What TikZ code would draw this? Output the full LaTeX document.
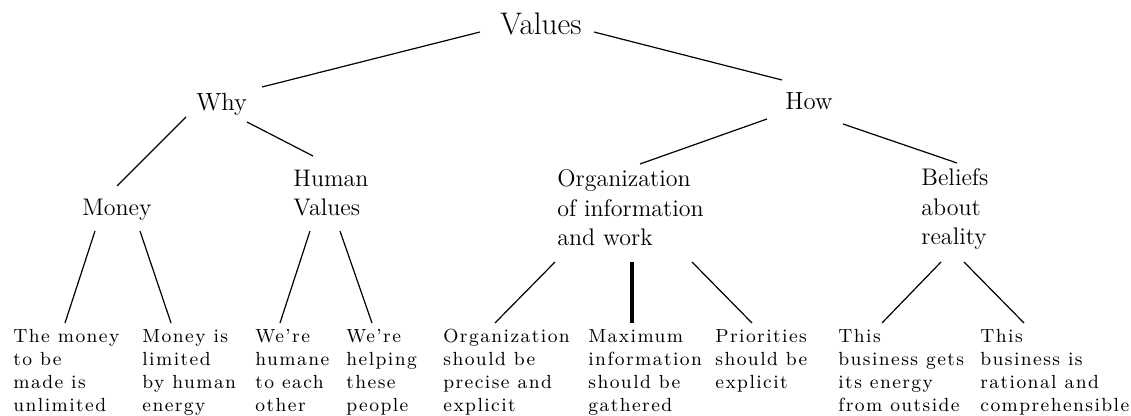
\documentclass[tikz,border=0pt]{standalone}
\usepackage{fontspec}
\setmainfont{Latin Modern Roman}
\usetikzlibrary{calc}
\tikzset{
  conn/.style={line width=0.6pt},
  thickconn/.style={line width=1.6pt},
  rootstyle/.style={anchor=base west, inner sep=0pt, font=\fontsize{15.6}{18}\selectfont},
  levelone/.style={anchor=base west, inner sep=0pt, font=\fontsize{12.4}{15}\selectfont},
  leveltwo/.style={anchor=base west, inner sep=0pt, align=left, font=\fontsize{12}{14.9}\selectfont},
  leafstyle/.style={anchor=base west, inner sep=0pt, align=left, font=\fontsize{9.5}{11.5}\selectfont\addfontfeature{LetterSpace=7.5}}
}
\begin{document}
\begin{tikzpicture}[x=0.5pt,y=-0.5pt]
\useasboundingbox (0,0) rectangle (1131,416);
% base west = baseline of the last line
\node[rootstyle] (values) at (500,35) {Values};
\node[levelone] (why) at (196,111) {Why};
\node[levelone] (how) at (785,110) {How};
\node[leveltwo] (money) at (82,216) {Money};
\node[leveltwo] (hv) at (293,216) {Human\\Values};
\node[leveltwo] (org) at (557,246) {Organization\\of information\\and work};
\node[leveltwo] (beliefs) at (921,245) {Beliefs\\about\\reality};
\node[leafstyle] (l1) at (13,412) {The money\\to be\\made is\\unlimited};
\node[leafstyle] (l2) at (142,412) {Money is\\limited\\by human\\energy};
\node[leafstyle] (l3) at (255,412) {We're\\humane\\to each\\other};
\node[leafstyle] (l4) at (346,412) {We're\\helping\\these\\people};
\node[leafstyle] (l5) at (443,412) {Organization\\should be\\precise and\\explicit};
\node[leafstyle] (l6) at (588,412) {Maximum\\information\\should be\\gathered};
\node[leafstyle] (l7) at (715,389) {Priorities\\should be\\explicit};
\node[leafstyle] (l8) at (838,412) {This\\business gets\\its energy\\from outside};
\node[leafstyle] (l9) at (980,412) {This\\business is\\rational and\\comprehensible};
\draw[conn] ($(values.base west)+(-20,-3)$) -- ($(why.base west)+(66,-24)$);
\draw[conn] ($(values.base west)+(94,-3)$) -- ($(how.base west)+(-3,-30)$);
\draw[conn] ($(why.base west)+(-10,6)$) -- ($(money.base west)+(35,-30)$);
\draw[conn] ($(why.base west)+(51,11)$) -- ($(hv.base west)+(20,-60)$);
\draw[conn] ($(how.base west)+(-18,9)$) -- ($(org.base west)+(83,-82)$);
\draw[conn] ($(how.base west)+(58,14)$) -- ($(beliefs.base west)+(36,-82)$);
\draw[conn] ($(money.base west)+(13,15)$) -- ($(l1.base west)+(52,-89)$);
\draw[conn] ($(money.base west)+(58,15)$) -- ($(l2.base west)+(29,-89)$);
\draw[conn] ($(hv.base west)+(17,15)$) -- ($(l3.base west)+(25,-89)$);
\draw[conn] ($(hv.base west)+(47,15)$) -- ($(l4.base west)+(26,-89)$);
\draw[conn] ($(org.base west)+(-2,16)$) -- ($(l5.base west)+(52,-89)$);
\draw[thickconn] ($(org.base west)+(75,16)$) -- ($(l6.base west)+(44,-89)$);
\draw[conn] ($(org.base west)+(135,16)$) -- ($(l7.base west)+(37,-66)$);
\draw[conn] ($(beliefs.base west)+(20,17)$) -- ($(l8.base west)+(44,-89)$);
\draw[conn] ($(beliefs.base west)+(43,17)$) -- ($(l9.base west)+(44,-89)$);
\end{tikzpicture}
\end{document}
